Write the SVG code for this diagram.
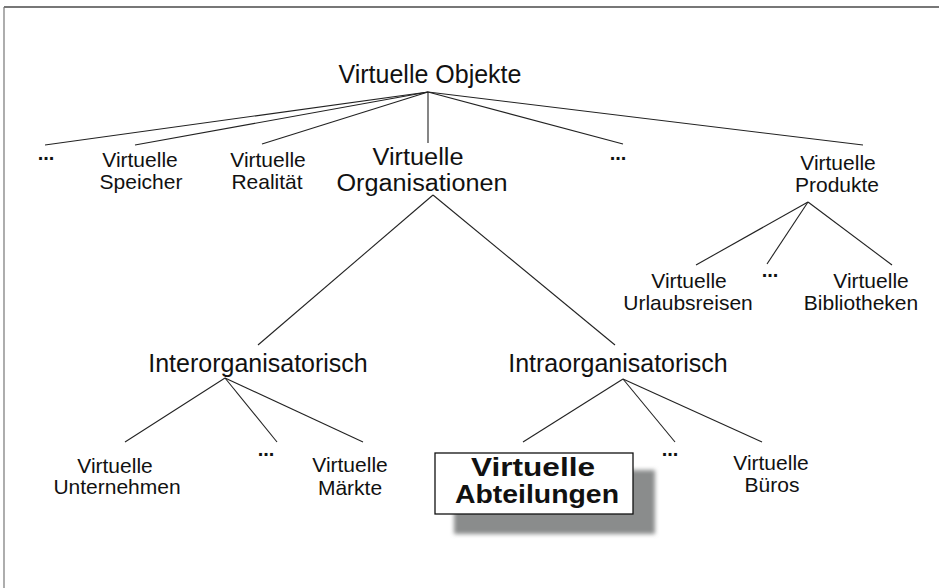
<svg xmlns="http://www.w3.org/2000/svg" width="939" height="588" viewBox="0 0 939 588">
  <defs>
    <style>
      .lbl { font-family: "Liberation Sans", Arial, Helvetica, sans-serif; fill: #111; text-anchor: middle; }
      .big { font-size: 25px; }
      .mid { font-size: 23px; }
      .small { font-size: 21px; }
      .dots { font-size: 20px; font-weight: bold; }
      .bold { font-size: 26px; font-weight: bold; }
      .edge { stroke: #222; stroke-width: 1.1; fill: none; }
      .frame { stroke: #777; fill: none; }
    </style>
    <filter id="soft" x="-20%" y="-20%" width="140%" height="140%">
      <feGaussianBlur stdDeviation="2"/>
    </filter>
  </defs>

  <rect width="939" height="588" fill="#fff"/>

  <!-- page frame: top and left rules -->
  <g id="frame">
    <line class="frame" x1="4" y1="7" x2="939" y2="7" stroke-width="2"/>
    <line class="frame" x1="4" y1="7" x2="4" y2="588" stroke-width="1.2"/>
  </g>

  <!-- tree connectors -->
  <g id="connectors">
    <line class="edge" x1="428" y1="92" x2="45" y2="145"/>
    <line class="edge" x1="428" y1="92" x2="135" y2="145"/>
    <line class="edge" x1="428" y1="92" x2="262" y2="144"/>
    <line class="edge" x1="428" y1="92" x2="428" y2="143"/>
    <line class="edge" x1="428" y1="92" x2="623" y2="144"/>
    <line class="edge" x1="428" y1="92" x2="863" y2="145"/>

    <line class="edge" x1="808" y1="202" x2="696" y2="265"/>
    <line class="edge" x1="808" y1="202" x2="767" y2="264"/>
    <line class="edge" x1="808" y1="202" x2="892" y2="265"/>

    <line class="edge" x1="433" y1="195" x2="258" y2="345"/>
    <line class="edge" x1="433" y1="195" x2="615" y2="345"/>

    <line class="edge" x1="225" y1="378" x2="125" y2="442"/>
    <line class="edge" x1="225" y1="378" x2="277" y2="442"/>
    <line class="edge" x1="225" y1="378" x2="363" y2="442"/>

    <line class="edge" x1="623" y1="379" x2="523" y2="442"/>
    <line class="edge" x1="623" y1="379" x2="675" y2="442"/>
    <line class="edge" x1="623" y1="379" x2="762" y2="442"/>
  </g>

  <g id="root">
    <text class="lbl big" x="430" y="83">Virtuelle Objekte</text>
  </g>

  <g id="more-left">
    <text class="lbl dots" x="46" y="160">...</text>
  </g>
  <g id="speicher">
    <text class="lbl small" x="140" y="167">Virtuelle</text>
    <text class="lbl small" x="141" y="189">Speicher</text>
  </g>
  <g id="realitaet">
    <text class="lbl small" x="268" y="167">Virtuelle</text>
    <text class="lbl small" x="267" y="189">Realität</text>
  </g>
  <g id="organisationen">
    <text class="lbl mid" x="418" y="165" textLength="91" lengthAdjust="spacingAndGlyphs">Virtuelle</text>
    <text class="lbl mid" x="422" y="191" textLength="171" lengthAdjust="spacingAndGlyphs">Organisationen</text>
  </g>
  <g id="more-mid">
    <text class="lbl dots" x="618" y="160">...</text>
  </g>
  <g id="produkte">
    <text class="lbl small" x="838" y="170">Virtuelle</text>
    <text class="lbl small" x="837" y="192">Produkte</text>
  </g>

  <g id="urlaubsreisen">
    <text class="lbl small" x="689" y="288">Virtuelle</text>
    <text class="lbl small" x="688" y="310">Urlaubsreisen</text>
  </g>
  <g id="more-produkte">
    <text class="lbl dots" x="770" y="277">...</text>
  </g>
  <g id="bibliotheken">
    <text class="lbl small" x="871" y="288">Virtuelle</text>
    <text class="lbl small" x="861" y="310">Bibliotheken</text>
  </g>

  <g id="inter">
    <text class="lbl big" x="258" y="372">Interorganisatorisch</text>
  </g>
  <g id="intra">
    <text class="lbl big" x="618" y="372">Intraorganisatorisch</text>
  </g>

  <g id="unternehmen">
    <text class="lbl small" x="115" y="473">Virtuelle</text>
    <text class="lbl small" x="117" y="494">Unternehmen</text>
  </g>
  <g id="more-inter">
    <text class="lbl dots" x="266" y="456">...</text>
  </g>
  <g id="maerkte">
    <text class="lbl small" x="350" y="472">Virtuelle</text>
    <text class="lbl small" x="350" y="495">Märkte</text>
  </g>

  <g id="abteilungen">
    <rect x="454" y="470" width="201" height="64" fill="#8a8c8c" filter="url(#soft)"/>
    <rect x="435" y="453" width="198" height="61" fill="#fff" stroke="#111" stroke-width="1.3"/>
    <text class="lbl bold" x="533" y="476" textLength="124" lengthAdjust="spacingAndGlyphs">Virtuelle</text>
    <text class="lbl bold" x="537" y="503" textLength="164" lengthAdjust="spacingAndGlyphs">Abteilungen</text>
  </g>
  <g id="more-intra">
    <text class="lbl dots" x="670" y="456">...</text>
  </g>
  <g id="bueros">
    <text class="lbl small" x="771" y="470">Virtuelle</text>
    <text class="lbl small" x="772" y="492">Büros</text>
  </g>
</svg>
